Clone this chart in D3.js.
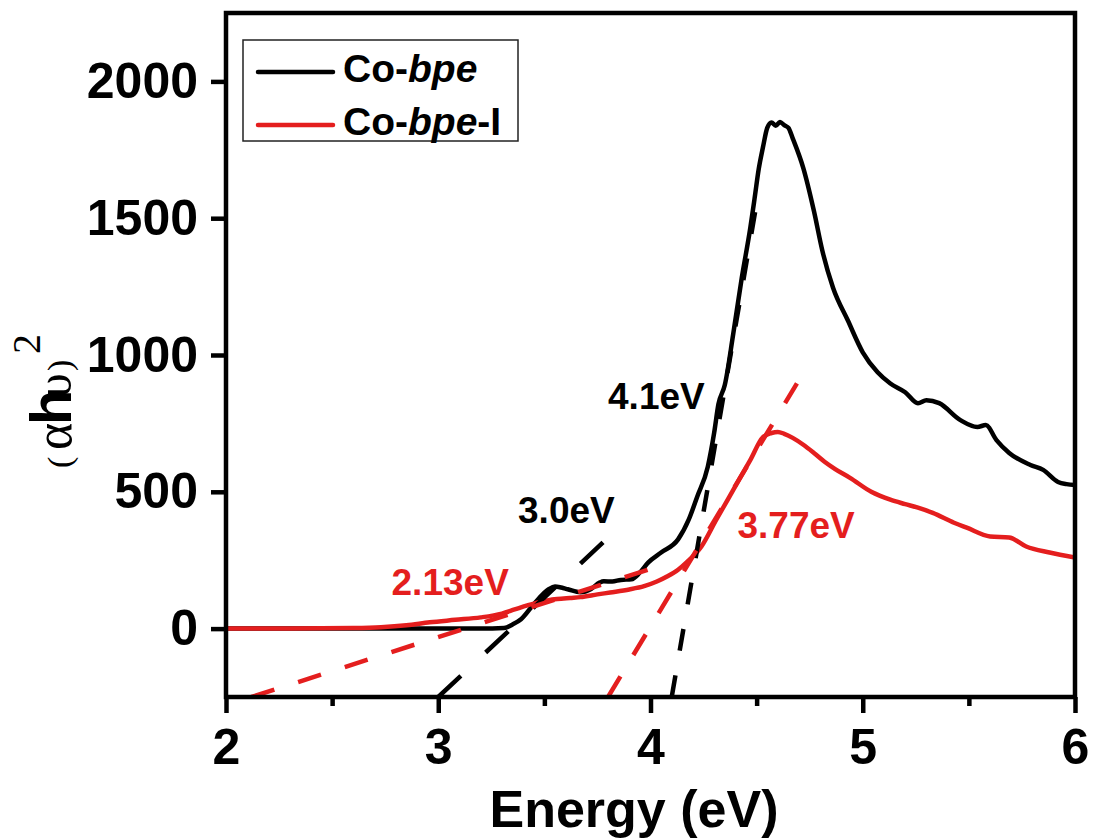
<!DOCTYPE html>
<html>
<head>
<meta charset="utf-8">
<script src="https://cdn.jsdelivr.net/npm/d3@7"></script>
<style>
  body { margin: 0; background: #fff; }
  text { font-family: "Liberation Sans", Arial, sans-serif; font-weight: bold; }
</style>
</head>
<body>
<div id="chart"></div>
<script>
// Co-bpe (black) curve, energy in eV / (ahv)^2
var coBpeX = [2.0, 2.5, 3.0, 3.2, 3.31, 3.35, 3.39, 3.45, 3.52, 3.55, 3.58, 3.61, 3.67, 3.72, 3.76, 3.78, 3.82, 3.86, 3.91, 3.95, 3.99, 4.05, 4.13, 4.18, 4.22, 4.27, 4.30, 4.32, 4.35, 4.39, 4.43, 4.47, 4.49, 4.51, 4.53, 4.55, 4.57, 4.59, 4.61, 4.63, 4.65, 4.67, 4.72, 4.77, 4.81, 4.86, 4.93, 5.0, 5.07, 5.13, 5.2, 5.26, 5.30, 5.36, 5.46, 5.54, 5.58, 5.63, 5.69, 5.79, 5.85, 5.92, 5.96, 6.0];
var coBpeY = [0, 0, 0, 0, 2, 15, 34, 89, 144, 154, 150, 144, 133, 145, 168, 173, 172, 178, 180, 205, 242, 278, 326, 398, 482, 592, 716, 820, 890, 1078, 1282, 1464, 1570, 1680, 1760, 1830, 1850, 1838, 1852, 1840, 1830, 1792, 1683, 1526, 1380, 1246, 1126, 1010, 937, 896, 864, 824, 835, 824, 762, 737, 744, 689, 642, 598, 580, 536, 528, 525];

// Co-bpe-I (red) curve
var coBpeIX = [2.0, 2.3, 2.6, 2.73, 2.85, 2.96, 3.08, 3.2, 3.3, 3.36, 3.42, 3.47, 3.52, 3.56, 3.62, 3.67, 3.75, 3.81, 3.9, 3.97, 4.03, 4.08, 4.13, 4.17, 4.24, 4.31, 4.39, 4.47, 4.53, 4.57, 4.60, 4.63, 4.67, 4.72, 4.77, 4.82, 4.87, 4.94, 5.04, 5.13, 5.2, 5.26, 5.33, 5.43, 5.49, 5.6, 5.69, 5.77, 5.88, 6.0];
var coBpeIY = [0, 0, 2, 5, 12, 23, 32, 41, 55, 70, 85, 96, 104, 108, 112, 115, 125, 132, 143, 155, 172, 191, 215, 242, 300, 398, 507, 616, 700, 715, 719, 712, 697, 672, 642, 610, 583, 551, 500, 471, 455, 442, 423, 387, 369, 337, 333, 300, 278, 260];

// tangent (Tauc) lines: [x0, y0, x1, y1]
var tangentBlack = [[3.0, -250, 3.78, 318], [4.10, -250, 4.51, 1600]];
var tangentRed = [[2.12, -250, 4.02, 223], [3.80, -250, 4.69, 896]];

// band gap labels anchored in data units
var gapLabels = ["3.0eV", "4.1eV", "2.13eV", "3.77eV"];
var gapLabelX = [3.376, 3.80, 2.78, 4.41];
var gapLabelY = [386, 803, 123, 331];
var gapLabelSeries = ["black", "black", "red", "red"];

var seriesNames = ["Co-", "Co-"];
var xMajorTicks = [2, 3, 4, 5, 6];
var xMinorTicks = [2.5, 3.5, 4.5, 5.5];
var yTicks = [0, 500, 1000, 1500, 2000];

var red = "#e41e1e";
var width = 1095, height = 839;
var margin = {left: 226, right: 20, top: 13, bottom: 142};

var svg = d3.select("#chart").append("svg")
    .attr("width", width)
    .attr("height", height);

var x = d3.scaleLinear().domain([2, 6]).range([margin.left, width - margin.right]);
var y = d3.scaleLinear().domain([-250, 2250]).range([height - margin.bottom, margin.top]);

svg.append("defs").append("clipPath")
    .attr("id", "plotClip")
  .append("rect")
    .attr("x", x(2)).attr("y", y(2250))
    .attr("width", x(6) - x(2)).attr("height", y(-250) - y(2250));

// axes
var xAxis = svg.append("g")
    .attr("transform", "translate(0," + y(-250) + ")")
    .call(d3.axisBottom(x).tickValues(xMajorTicks).tickFormat(d3.format("d"))
        .tickSizeInner(16).tickSizeOuter(0).tickPadding(15));
var xMinor = svg.append("g")
    .attr("transform", "translate(0," + y(-250) + ")")
    .call(d3.axisBottom(x).tickValues(xMinorTicks).tickFormat("")
        .tickSizeInner(9).tickSizeOuter(0));
var yAxis = svg.append("g")
    .attr("transform", "translate(" + x(2) + ",0)")
    .call(d3.axisLeft(y).tickValues(yTicks).tickFormat(d3.format("d"))
        .tickSizeInner(15).tickSizeOuter(0).tickPadding(13));

[xAxis, xMinor, yAxis].forEach(function(g) {
    g.select(".domain").remove();
    g.selectAll(".tick line").attr("stroke", "#000").attr("stroke-width", 4.5);
    g.selectAll(".tick text")
        .attr("fill", "#000")
        .style("font-size", "50px")
        .style("font-family", "'Liberation Sans', Arial, sans-serif")
        .style("font-weight", "bold");
});

// curves
var line = d3.line()
    .curve(d3.curveMonotoneX)
    .x(function(d) { return x(d[0]); })
    .y(function(d) { return y(d[1]); });

var plot = svg.append("g").attr("clip-path", "url(#plotClip)");

plot.append("path")
    .datum(coBpeX.map(function(v, i) { return [v, coBpeY[i]]; }))
    .attr("d", line)
    .attr("fill", "none")
    .attr("stroke", "#000")
    .attr("stroke-width", 4.5)
    .attr("stroke-linejoin", "round");

plot.append("path")
    .datum(coBpeIX.map(function(v, i) { return [v, coBpeIY[i]]; }))
    .attr("d", line)
    .attr("fill", "none")
    .attr("stroke", red)
    .attr("stroke-width", 4.5)
    .attr("stroke-linejoin", "round");

// dashed tangents
plot.selectAll(".tan-black")
    .data(tangentBlack)
    .join("line")
    .attr("class", "tan-black")
    .attr("x1", function(d) { return x(d[0]); })
    .attr("y1", function(d) { return y(d[1]); })
    .attr("x2", function(d) { return x(d[2]); })
    .attr("y2", function(d) { return y(d[3]); })
    .attr("stroke", "#000")
    .attr("stroke-width", 4.5)
    .attr("stroke-dasharray", function(d, i) { return i === 0 ? "31,34" : "22,25"; });

plot.selectAll(".tan-red")
    .data(tangentRed)
    .join("line")
    .attr("class", "tan-red")
    .attr("x1", function(d) { return x(d[0]); })
    .attr("y1", function(d) { return y(d[1]); })
    .attr("x2", function(d) { return x(d[2]); })
    .attr("y2", function(d) { return y(d[3]); })
    .attr("stroke", red)
    .attr("stroke-width", 4.5)
    .attr("stroke-dasharray", "24,25");

// frame
svg.append("rect")
    .attr("x", x(2)).attr("y", y(2250))
    .attr("width", x(6) - x(2)).attr("height", y(-250) - y(2250))
    .attr("fill", "none")
    .attr("stroke", "#000")
    .attr("stroke-width", 4.5);

// gap labels
svg.selectAll(".gap")
    .data(gapLabels)
    .join("text")
    .attr("class", "gap")
    .attr("x", function(d, i) { return x(gapLabelX[i]); })
    .attr("y", function(d, i) { return y(gapLabelY[i]); })
    .attr("fill", function(d, i) { return gapLabelSeries[i] === "red" ? red : "#000"; })
    .style("font-size", "37px")
    .text(function(d) { return d; });

// legend
var legend = svg.append("g");
legend.append("rect")
    .attr("x", 243).attr("y", 40)
    .attr("width", 275).attr("height", 101)
    .attr("fill", "#fff")
    .attr("stroke", "#222")
    .attr("stroke-width", 1.5);

var legendColors = ["#000", red];
seriesNames.forEach(function(name, i) {
    var ly = 72 + i * 53;
    legend.append("line")
        .attr("x1", 258).attr("x2", 333)
        .attr("y1", ly).attr("y2", ly)
        .attr("stroke", legendColors[i])
        .attr("stroke-width", 4.5)
        .attr("stroke-linecap", "round");
    var t = legend.append("text")
        .attr("x", 343).attr("y", ly + 10)
        .style("font-size", "39px")
        .attr("fill", "#000");
    t.append("tspan").text(name);
    t.append("tspan").style("font-style", "italic").text("bpe");
    if (i === 1) t.append("tspan").text("-I");
});

// axis titles
svg.append("text")
    .attr("x", 634).attr("y", 827)
    .attr("text-anchor", "middle")
    .style("font-size", "52px")
    .text("Energy (eV)");

// y title, glyphs placed along the rotated baseline
var yTitle = svg.append("text")
    .attr("transform", "translate(71,470) rotate(-90)")
    .attr("fill", "#000");
var serif = "'Liberation Serif', 'DejaVu Serif', serif";
yTitle.append("tspan").attr("x", 2)
    .style("font-family", serif).style("font-weight", "normal")
    .style("font-size", "34px").text("(");
yTitle.append("tspan").attr("x", 20)
    .style("font-family", serif).style("font-weight", "normal")
    .style("font-size", "52px").text("\u03b1");
yTitle.append("tspan").attr("x", 45)
    .style("font-size", "58px").text("h");
yTitle.append("tspan").attr("x", 72)
    .style("font-family", serif).style("font-weight", "normal")
    .style("font-size", "50px").text("\u03c5");
yTitle.append("tspan").attr("x", 99)
    .style("font-family", serif).style("font-weight", "normal")
    .style("font-size", "34px").text(")");
yTitle.append("tspan").attr("x", 116).attr("dy", -31)
    .style("font-family", serif).style("font-weight", "normal")
    .style("font-size", "40px").text("2");
</script>
</body>
</html>
